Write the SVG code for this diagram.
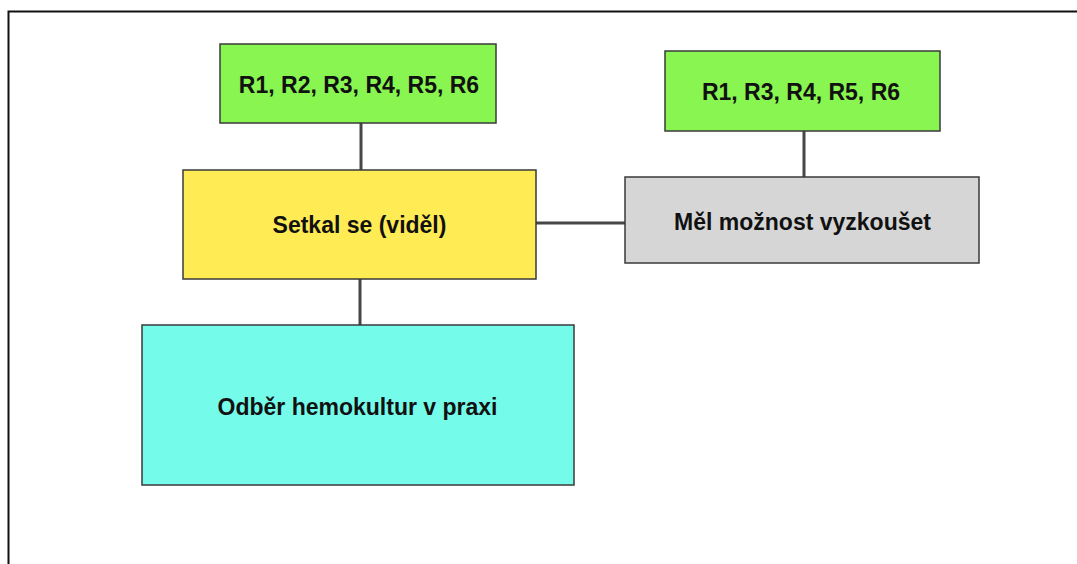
<svg xmlns="http://www.w3.org/2000/svg" width="1077" height="564" viewBox="0 0 1077 564">
<style>
.box{stroke:#3a3a3a;stroke-width:1.5}
.lbl{font-family:"Liberation Sans",Arial,sans-serif;font-weight:bold;font-size:23px;fill:#111;text-anchor:middle;dominant-baseline:central}
.con{stroke:#474747;stroke-width:3;fill:none}
</style>
<rect width="1077" height="564" fill="#fff"/>
<path d="M8.5 564 V11.5 H1077" fill="none" stroke="#111" stroke-width="2"/>
<g id="connectors">
<line class="con" x1="361" y1="123" x2="361" y2="170"/>
<line class="con" x1="360" y1="279" x2="360" y2="325"/>
<line class="con" x1="536" y1="223" x2="625" y2="223"/>
<line class="con" x1="804" y1="131" x2="804" y2="177"/>
</g>
<g id="n1">
<rect class="box" x="220" y="44" width="276" height="79" fill="#88f550"/>
<text class="lbl" x="359" y="85">R1, R2, R3, R4, R5, R6</text>
</g>
<g id="n2">
<rect class="box" x="183" y="170" width="353" height="109" fill="#ffec55"/>
<text class="lbl" x="359.5" y="225">Setkal se (viděl)</text>
</g>
<g id="n3">
<rect class="box" x="142" y="325" width="432" height="160" fill="#74fbe9"/>
<text class="lbl" x="357.5" y="407">Odběr hemokultur v praxi</text>
</g>
<g id="n4">
<rect class="box" x="665" y="51" width="275" height="80" fill="#88f550"/>
<text class="lbl" x="801" y="92">R1, R3, R4, R5, R6</text>
</g>
<g id="n5">
<rect class="box" x="625" y="177" width="354" height="86" fill="#d6d6d6"/>
<text class="lbl" x="802.5" y="222">Měl možnost vyzkoušet</text>
</g>
</svg>
